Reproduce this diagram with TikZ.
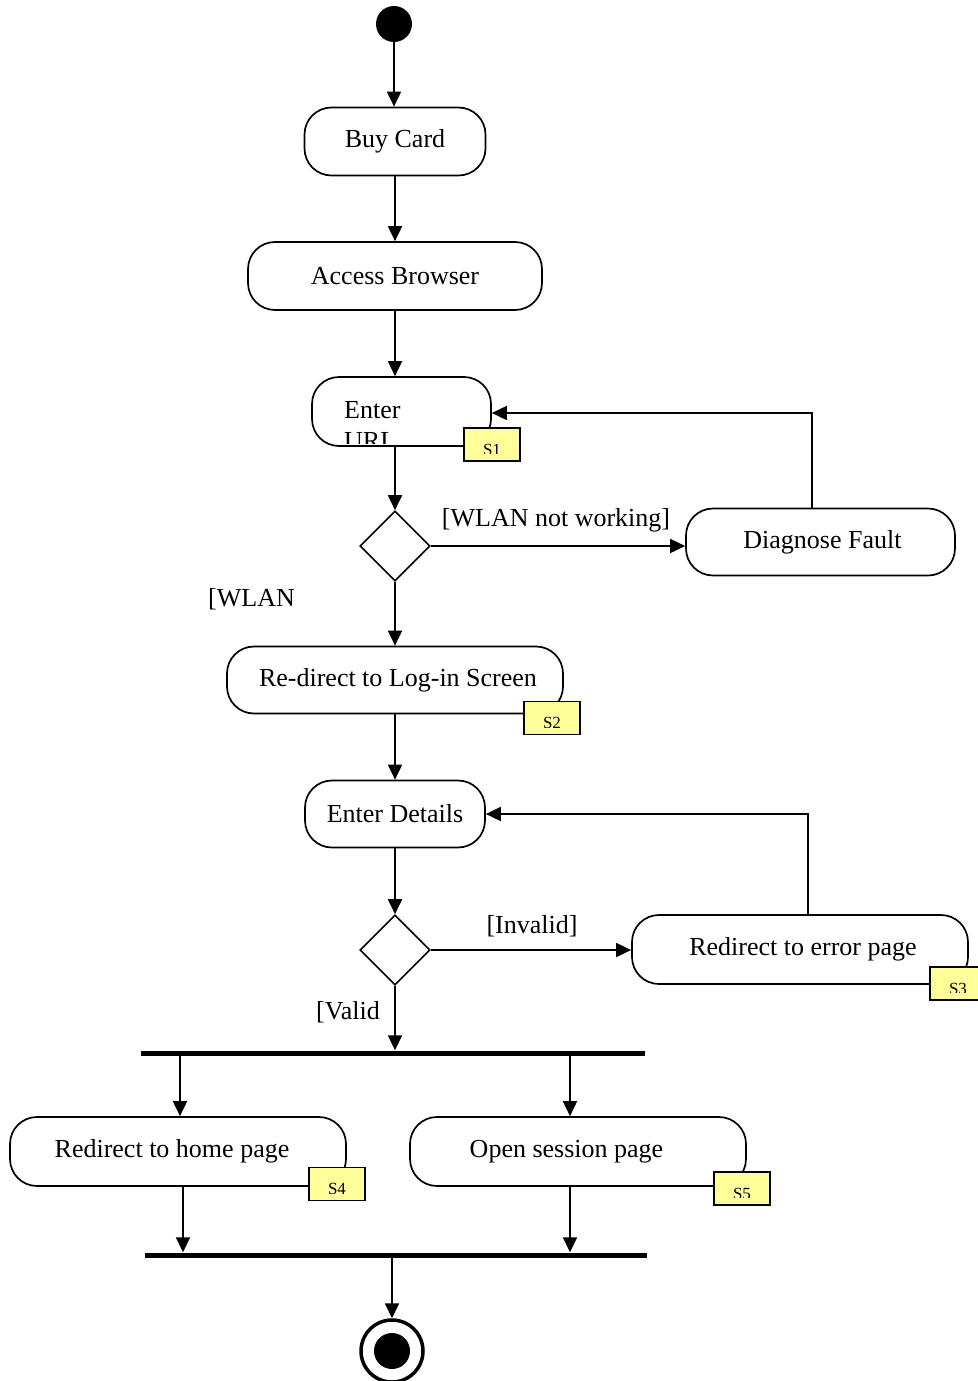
\documentclass[tikz,border=0pt]{standalone}
\usepackage{fontspec}
\setmainfont{Liberation Serif}
\usetikzlibrary{arrows.meta,shapes.geometric}
\definecolor{notefill}{RGB}{255,255,153}
% small yellow tag whose caption is cut off by the lower part of the box
\newcommand\notetag[3]{%
  \node[tagbox] (#1) at (#2) {};
  \begin{scope}
    \clip (#1.north west) rectangle ([yshift=8pt]#1.south east);
    \node[tagtext] at ([yshift=-10.5pt]#1.center) {#3};
  \end{scope}}
\begin{document}
\begin{tikzpicture}[x=1pt,y=-1pt,
  act/.style={draw,line width=1.7pt,rounded corners=27pt,inner sep=0pt,
    minimum height=68pt,font=\fontsize{26}{30}\selectfont},
  choice/.style={draw,diamond,line width=1.6pt,aspect=1,inner sep=0pt,
    minimum width=70pt,minimum height=70pt},
  bar/.style={fill=black,inner sep=0pt,minimum height=5pt},
  guard/.style={inner sep=0pt,font=\fontsize{26}{30}\selectfont},
  tagbox/.style={draw,line width=1.5pt,fill=notefill,inner sep=0pt,
    minimum width=56pt,minimum height=33pt},
  tagtext/.style={inner sep=0pt,anchor=base,font=\fontsize{17}{19}\selectfont},
  flow/.style={line width=1.8pt,-{Triangle[width=14pt,length=15pt]}}]
\useasboundingbox[fill=white] (0,0) rectangle (977,1381);

% initial state
\node[circle,fill=black,inner sep=0pt,minimum size=36pt] (start) at (394,24) {};

% activities
\node[act,minimum width=181pt] (buy) at (395,141.5) {Buy Card};
\node[act,minimum width=294pt] (access) at (395,276) {Access Browser};
\node[act,minimum width=179pt,minimum height=69pt] (url) at (401.5,411.5) {};
\begin{scope}
  \clip (url.north west) rectangle ([yshift=3pt]url.south east);
  \node[guard,anchor=base west] (urltop) at (344,418) {Enter};
  \node[guard,anchor=base west] (urlbot) at (344,449) {URL};
\end{scope}
\node[choice] (dec1) at (395,546) {};
\node[act,minimum width=269pt,minimum height=67pt] (diag) at (820.5,542) {Diagnose Fault\kern-4pt};
\node[act,minimum width=336pt,minimum height=67pt] (login) at (395,680) {\kern6pt Re-direct to Log-in Screen};
\node[act,minimum width=180pt,minimum height=67pt] (details) at (395,814) {Enter Details};
\node[choice] (dec2) at (395,950) {};
\node[act,minimum width=336pt,minimum height=69pt] (err) at (800,949.5) {Redirect to error page\kern-6pt};
\node[bar,minimum width=504pt] (fork) at (393,1053) {};
\node[act,minimum width=336pt,minimum height=69pt] (home) at (178,1151.5) {Redirect to home page\kern12pt};
\node[act,minimum width=336pt,minimum height=69pt] (sess) at (578,1151.5) {Open session page\kern23pt};
\node[bar,minimum width=502pt] (join) at (396,1255) {};

% final state
\node[circle,draw,line width=3.5pt,inner sep=0pt,minimum size=62pt] (finish) at (392,1351) {};
\node[circle,fill=black,inner sep=0pt,minimum size=36pt] (finishdot) at (finish.center) {};

% tags
\notetag{s1}{492,444.5}{S1}
\notetag{s2}{552,718}{S2}
\notetag{s3}{958,983.5}{S3}
\notetag{s4}{337,1184}{S4}
\notetag{s5}{742,1188.5}{S5}

% guards
\node[guard] (gnot) at (556,520) {[WLAN not working]};
\node[guard] (gwlan) at (251.5,599) {[WLAN};
\node[guard] (ginv) at (532,926) {[Invalid]};
\node[guard] (gval) at (348,1012) {[Valid};

% control flow
\draw[flow] (start.south) -- (start.south |- buy.north);
\draw[flow] (buy) -- (access);
\draw[flow] (access.south) -- (access.south |- url.north);
\draw[flow] (dec1.north |- url.south) -- (dec1.north);
\draw[flow] (dec1.east) -- (dec1.east -| diag.west);
\coordinate (diagout) at ([xshift=-8.5pt]diag.north);
\draw[flow] (diagout) |- ([yshift=-1.5pt]url.east);
\draw[flow] (dec1) -- (login);
\draw[flow] (login) -- (details);
\draw[flow] (details) -- (dec2);
\draw[flow] (dec2.east) -- (dec2.east -| err.west);
\coordinate (errout) at ([xshift=8pt]err.north);
\draw[flow] (errout) |- (details.east);
\draw[flow] (dec2.south) -- (dec2.south |- fork.north);
\coordinate (homein) at ([xshift=2pt]home.north);
\coordinate (sessin) at ([xshift=-8pt]sess.north);
\draw[flow] (homein |- fork.south) -- (homein);
\draw[flow] (sessin |- fork.south) -- (sessin);
\coordinate (homeout) at ([xshift=5pt]home.south);
\coordinate (sessout) at ([xshift=-8pt]sess.south);
\draw[flow] (homeout) -- (homeout |- join.north);
\draw[flow] (sessout) -- (sessout |- join.north);
\draw[flow] (finish.north |- join.south) -- (finish.north);
\end{tikzpicture}
\end{document}
